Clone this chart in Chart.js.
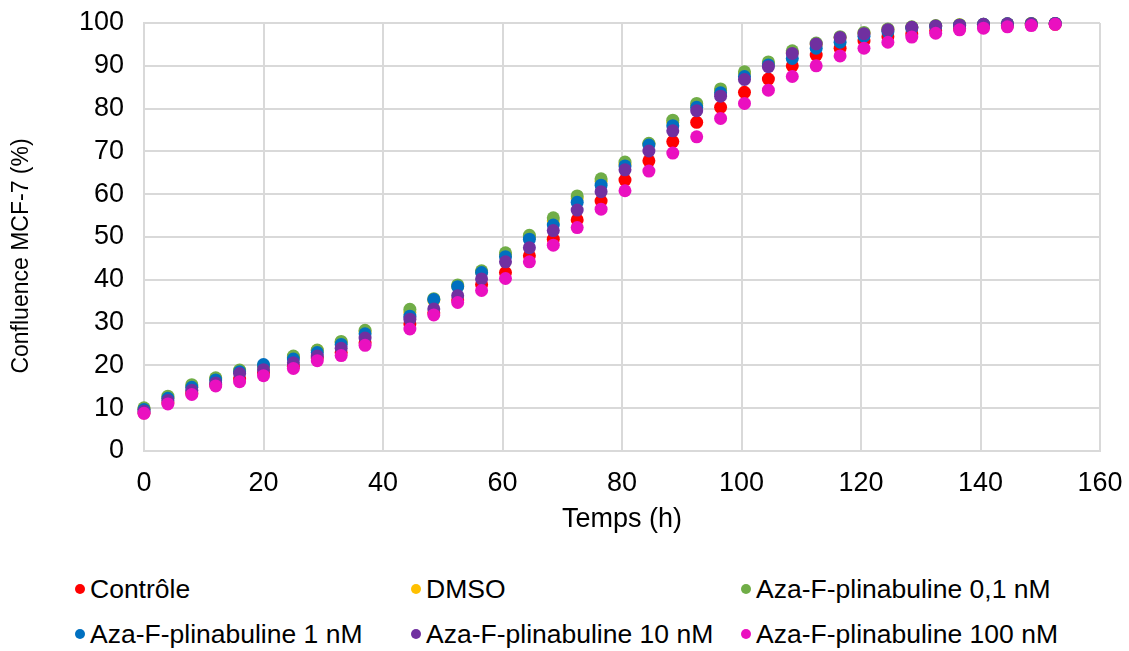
<!DOCTYPE html>
<html lang="fr">
<head>
    <meta charset="UTF-8">
    <title>Confluence MCF-7</title>
    <script src="https://cdn.jsdelivr.net/npm/chart.js"></script>
    <style>
        body { margin: 0; background: #fff; font-family: 'Liberation Sans', Arial, sans-serif; }
        #wrap { position: relative; width: 1129px; height: 651px; }
        #legend {
            position: absolute; left: 75px; top: 571px;
            display: grid; grid-template-columns: 336px 330px auto;
            row-gap: 9px; font-size: 26.5px; color: #000;
        }
        .item { display: flex; align-items: center; height: 36px; white-space: nowrap; }
        .dot { width: 10px; height: 10px; border-radius: 50%; margin-right: 5px; }
    </style>
</head>
<body>
<div id="wrap">
    <canvas id="chart" width="1129" height="560"></canvas>
    <div id="legend"></div>
</div>
<script>
    const times = [0, 4, 8, 12, 16, 20, 25, 29, 33, 37, 44.5, 48.5, 52.5, 56.5, 60.5, 64.5, 68.5, 72.5, 76.5, 80.5,
        84.5, 88.5, 92.5, 96.5, 100.5, 104.5, 108.5, 112.5, 116.5, 120.5, 124.5, 128.5, 132.5, 136.5, 140.5, 144.5, 148.5, 152.5];

    const controle = [8.9, 11.3, 13.5, 15.5, 16.8, 18.3, 19.8, 21.7, 23.0, 25.3, 29.7, 32.3, 35.3, 38.9, 41.7, 45.6, 49.5, 54.0, 58.4, 63.3,
        67.8, 72.3, 76.8, 80.3, 83.8, 86.9, 90.0, 92.5, 94.1, 95.8, 96.8, 97.5, 98.2, 98.7, 99.1, 99.4, 99.6, 99.7];
    const dmso = [9.9, 12.5, 15.2, 16.9, 18.7, 19.9, 21.9, 23.5, 25.4, 27.9, 32.4, 35.2, 38.5, 41.8, 45.9, 50.0, 53.8, 59.0, 63.0, 67.0,
        71.7, 76.8, 80.8, 84.2, 88.2, 90.6, 93.1, 95.0, 96.6, 97.6, 98.5, 99.0, 99.3, 99.6, 99.7, 99.8, 99.9, 99.9];
    const aza01 = [10.1, 12.8, 15.5, 17.1, 18.9, 19.8, 22.2, 23.6, 25.6, 28.2, 33.1, 35.6, 38.8, 42.1, 46.3, 50.4, 54.5, 59.6, 63.6, 67.5,
        71.9, 77.3, 81.2, 84.6, 88.6, 90.9, 93.5, 95.3, 96.8, 97.8, 98.6, 99.1, 99.4, 99.6, 99.7, 99.8, 99.9, 99.9];
    const aza1 = [9.7, 12.3, 14.9, 16.6, 18.5, 20.2, 21.5, 23.0, 24.9, 27.4, 31.5, 35.4, 38.4, 41.7, 45.4, 49.5, 52.8, 58.1, 62.1, 66.6,
        71.5, 76.0, 80.3, 83.7, 87.5, 90.2, 91.7, 94.1, 95.5, 96.9, 98.0, 98.8, 99.2, 99.5, 99.7, 99.8, 99.8, 99.9];
    const aza10 = [9.3, 11.8, 14.2, 15.9, 18.1, 19.0, 20.6, 22.2, 24.0, 26.4, 30.8, 33.2, 36.3, 40.2, 44.2, 47.5, 51.5, 56.3, 60.6, 65.7,
        70.1, 74.8, 79.5, 82.9, 86.8, 89.8, 92.9, 95.1, 96.6, 97.5, 98.4, 99.0, 99.3, 99.5, 99.7, 99.8, 99.8, 99.9];
    const aza100 = [8.8, 11.0, 13.2, 15.2, 16.2, 17.6, 19.3, 21.1, 22.3, 24.7, 28.5, 31.8, 34.7, 37.5, 40.3, 44.2, 48.1, 52.2, 56.5, 60.8,
        65.4, 69.6, 73.4, 77.7, 81.2, 84.3, 87.5, 90.0, 92.3, 94.1, 95.5, 96.7, 97.6, 98.4, 98.8, 99.1, 99.4, 99.7];

    const seriesNames = ['Contrôle', 'DMSO', 'Aza-F-plinabuline 0,1 nM', 'Aza-F-plinabuline 1 nM', 'Aza-F-plinabuline 10 nM', 'Aza-F-plinabuline 100 nM'];
    const seriesValues = [controle, dmso, aza01, aza1, aza10, aza100];
    const seriesColors = ['#FF0000', '#FFC000', '#70AD47', '#0070C0', '#7030A0', '#EA10C0'];
    const yTitle = 'Confluence MCF-7 (%)';

    const font = { family: "'Liberation Sans', Arial, sans-serif", size: 27 };
    const gridColor = '#d9d9d9';

    // later series are drawn on top, as in the original
    const datasets = seriesNames.map((name, i) => ({
        label: name,
        data: times.map((t, j) => ({ x: t, y: seriesValues[i][j] })),
        backgroundColor: seriesColors[i],
        borderWidth: 0,
        pointRadius: 6.5,
        order: seriesNames.length - i,
        clip: false
    }));

    // the y title sits a bit lower than the plot centre and is smaller in the original
    const yTitlePlugin = {
        id: 'yTitle',
        afterDraw(c) {
            const ctx = c.ctx;
            ctx.save();
            ctx.translate(22, 256);
            ctx.rotate(-Math.PI / 2);
            ctx.font = "23px 'Liberation Sans', Arial, sans-serif";
            ctx.fillStyle = '#000';
            ctx.textAlign = 'center';
            ctx.textBaseline = 'middle';
            ctx.fillText(yTitle, 0, 0);
            ctx.restore();
        }
    };

    const chart = new Chart(document.getElementById('chart').getContext('2d'), {
        type: 'scatter',
        data: { datasets: datasets },
        plugins: [yTitlePlugin],
        options: {
            responsive: false,
            animation: false,
            layout: { padding: { top: 23, right: 29, left: 0, bottom: 0 } },
            plugins: { legend: { display: false }, tooltip: { enabled: false } },
            scales: {
                x: {
                    min: 0, max: 160,
                    ticks: { stepSize: 20, color: '#000', font: font, padding: 16 },
                    grid: { color: gridColor, lineWidth: 2, drawTicks: false },
                    border: { color: gridColor, width: 2 },
                    title: { display: true, text: 'Temps (h)', color: '#000', font: font, padding: { bottom: 24 } },
                    afterFit: (s) => { s.height = 109; s.paddingLeft = 0; s.paddingRight = 0; }
                },
                y: {
                    min: 0, max: 100,
                    ticks: { stepSize: 10, color: '#000', font: font, padding: 20 },
                    grid: { color: gridColor, lineWidth: 2, drawTicks: false },
                    border: { color: gridColor, width: 2 },
                    afterFit: (s) => { s.width = 144; s.paddingTop = 0; s.paddingBottom = 0; }
                }
            }
        }
    });

    // legend laid out in three columns, like the original
    const legend = document.getElementById('legend');
    chart.data.datasets.forEach((ds) => {
        const item = document.createElement('div');
        item.className = 'item';
        item.innerHTML = '<span class="dot" style="background:' + ds.backgroundColor + '"></span><span>' + ds.label + '</span>';
        legend.appendChild(item);
    });
</script>
</body>
</html>
